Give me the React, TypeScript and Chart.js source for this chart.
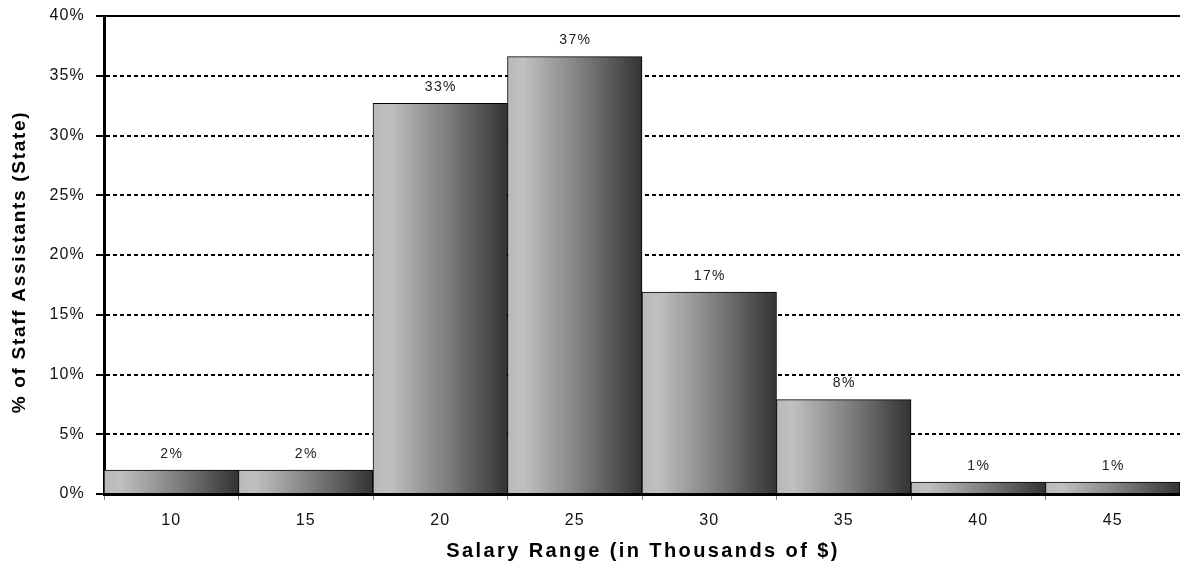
import React, { useEffect, useRef } from "react";
import { Chart, registerables } from "chart.js";

Chart.register(...registerables);

// Salary bands (thousands of $) and share of state staff assistants in each (%)
const salaryRanges: string[] = ["10", "15", "20", "25", "30", "35", "40", "45"];
const staffShare: number[] = [2.0, 2.0, 32.7, 36.6, 16.9, 7.9, 1.0, 1.0];
const yTickValues: number[] = [0, 5, 10, 15, 20, 25, 30, 35, 40];

const FONT = "'Liberation Sans', Arial, Helvetica, sans-serif";

// Horizontal light-to-dark fill across each bar
function barFill(ctx: any) {
  const chart = ctx.chart;
  const xs = chart.scales?.x;
  if (!xs || ctx.dataIndex === undefined) return "#888";
  const n = salaryRanges.length;
  const cx = xs.getPixelForValue(ctx.dataIndex);
  const half = xs.width / n / 2;
  if (!Number.isFinite(cx) || !Number.isFinite(half) || half <= 0) return "#888";
  const g = chart.ctx.createLinearGradient(cx - half, 0, cx + half, 0);
  g.addColorStop(0, "#b9b9b9");
  g.addColorStop(0.12, "#c0c0c0");
  g.addColorStop(0.55, "#7e7e7e");
  g.addColorStop(1, "#333333");
  return g;
}

const textSpacing = {
  id: "textSpacing",
  beforeDraw(chart: any) {
    (chart.ctx as any).letterSpacing = "1.2px";
  },
};

const frameAndLabels = {
  id: "frameAndLabels",
  afterDatasetsDraw(chart: any) {
    const { ctx, chartArea } = chart;
    ctx.save();
    // solid rule along the top of the plot
    ctx.strokeStyle = "#000";
    ctx.lineWidth = 2;
    ctx.setLineDash([]);
    ctx.beginPath();
    ctx.moveTo(chartArea.left - 8, chartArea.top);
    ctx.lineTo(chartArea.right, chartArea.top);
    ctx.stroke();

    // value labels above each bar
    const meta = chart.getDatasetMeta(0);
    ctx.fillStyle = "#222";
    ctx.font = `14px ${FONT}`;
    ctx.textAlign = "center";
    ctx.textBaseline = "middle";
    (ctx as any).letterSpacing = "1.3px";
    meta.data.forEach((bar: any, i: number) => {
      const v = staffShare[i];
      ctx.fillText(`${Math.round(v)}%`, bar.x + 0.5, bar.y - 16);
    });
    ctx.restore();
  },
  afterDraw(chart: any) {
    const { ctx, chartArea } = chart;
    ctx.save();
    ctx.fillStyle = "#000";
    ctx.textAlign = "center";
    ctx.textBaseline = "middle";
    ctx.font = `bold 20px ${FONT}`;
    (ctx as any).letterSpacing = "2.4px";
    ctx.fillText(
      "Salary Range (in Thousands of $)",
      (chartArea.left + chartArea.right) / 2 + 1,
      551
    );
    ctx.font = `bold 19px ${FONT}`;
    (ctx as any).letterSpacing = "1.7px";
    ctx.translate(20, (chartArea.top + chartArea.bottom) / 2 + 8);
    ctx.rotate(-Math.PI / 2);
    ctx.fillText("% of Staff Assistants (State)", 1, 0);
    ctx.restore();
  },
};

export default function App() {
  const canvasRef = useRef<HTMLCanvasElement | null>(null);

  useEffect(() => {
    if (!canvasRef.current) return;
    const chart = new Chart(canvasRef.current, {
      type: "bar",
      data: {
        labels: salaryRanges,
        datasets: [
          {
            data: staffShare,
            backgroundColor: barFill,
            borderColor: "#000",
            borderWidth: 1,
            barPercentage: 1,
            categoryPercentage: 1,
          },
        ],
      },
      plugins: [textSpacing, frameAndLabels],
      options: {
        responsive: false,
        animation: false,
        layout: { padding: { top: 16, right: 0, left: 0, bottom: 0 } },
        plugins: {
          legend: { display: false },
          tooltip: { enabled: false },
        },
        scales: {
          x: {
            offset: true,
            afterFit: (s: any) => {
              s.height = 71;
              s.paddingLeft = 0;
              s.paddingRight = 0;
            },
            grid: {
              offset: true,
              drawOnChartArea: false,
              drawTicks: true,
              tickLength: 6,
              tickColor: "#888",
              tickWidth: 1,
            },
            border: { display: true, color: "#000", width: 3 },
            ticks: {
              color: "#111",
              font: { family: FONT, size: 16 },
              padding: 11,
            },
          },
          y: {
            min: 0,
            max: 40,
            afterFit: (s: any) => {
              s.width = 104;
              s.paddingTop = 0;
              s.paddingBottom = 0;
            },
            afterBuildTicks: (s: any) => {
              s.ticks = yTickValues.map((v) => ({ value: v }));
            },
            grid: {
              color: (c: any) =>
                c.tick && (c.tick.value === 0 || c.tick.value === 40)
                  ? "rgba(0,0,0,0)"
                  : "#000",
              lineWidth: 2,
              drawTicks: true,
              tickLength: 8,
              tickColor: "#000",
              tickWidth: 2,
            },
            border: { display: true, color: "#000", width: 3, dash: [4, 3] },
            ticks: {
              color: "#111",
              font: { family: FONT, size: 16 },
              padding: 11,
              callback: (v: any) => `${v}%`,
            },
          },
        },
      },
    });
    return () => chart.destroy();
  }, []);

  return (
    <div style={{ position: "absolute", left: 0, top: 0, width: 1180, height: 565, background: "#fff" }}>
      <canvas ref={canvasRef} width={1180} height={565} style={{ width: 1180, height: 565 }} />
    </div>
  );
}
